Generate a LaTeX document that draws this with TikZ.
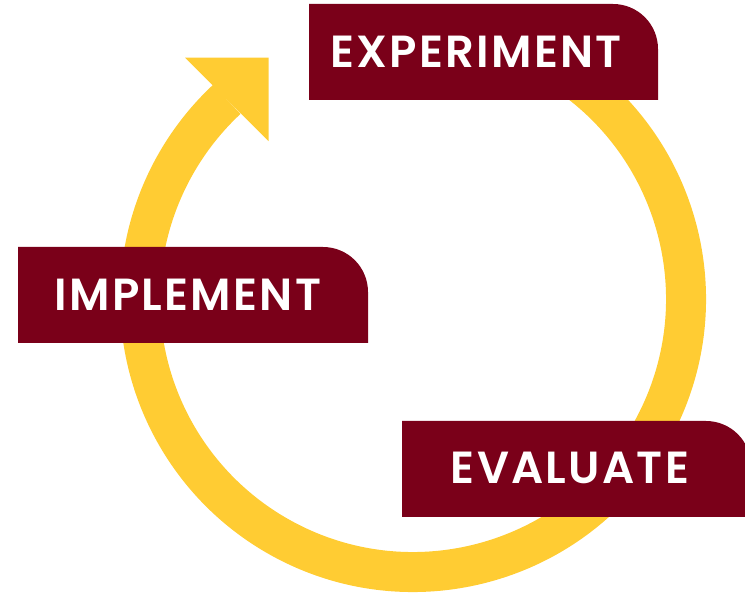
\documentclass[tikz,border=0pt]{standalone}
\usepackage{fontspec}
\setmainfont{Poppins}
\newfontfamily\tagfont{Poppins SemiBold}[LetterSpace=5]
\usetikzlibrary{calc}
\definecolor{ringgold}{HTML}{FFCC33}
\definecolor{boxmaroon}{HTML}{7A0019}
\tikzset{
  steplabel/.style={text=white, font=\tagfont\fontsize{45}{45}\selectfont, inner sep=0pt},
  tagbox/.style={fill=boxmaroon},
  ring/.style={draw=ringgold, line width=40pt},
}
% a tag: flat box whose top-right corner is rounded
\newcommand\tagshape[4]{% left, bottom, right, top
  \fill[tagbox] (#1,#2) -- (#1,#4) -- ({#3-45},#4)
    arc[start angle=90, end angle=0, radius=45] -- (#3,#2) -- cycle;}
\begin{document}
\begin{tikzpicture}[x=1pt,y=1pt]
\useasboundingbox (0,0) rectangle (745,595);
\coordinate (c) at (413,296);
% circular arrow, running clockwise
\draw[ring] ($(c)+(60:273)$) arc[start angle=60, end angle=-227, radius=273] coordinate (e);
\fill[ringgold] ($(e)+(135:59)$) -- ($(e)+(45:59)$) -- ($(e)+(-45:59)$) -- cycle;
% step tags
\tagshape{309}{495}{658}{591}
\tagshape{18}{252}{368}{348}
\tagshape{402}{78}{751}{174}
\node[steplabel] (experiment) at (476,543) {EXPERIMENT};
\node[steplabel] (implement) at (188,300) {IMPLEMENT};
\node[steplabel] (evaluate) at (570,127) {EVALUATE};
\end{tikzpicture}
\end{document}
